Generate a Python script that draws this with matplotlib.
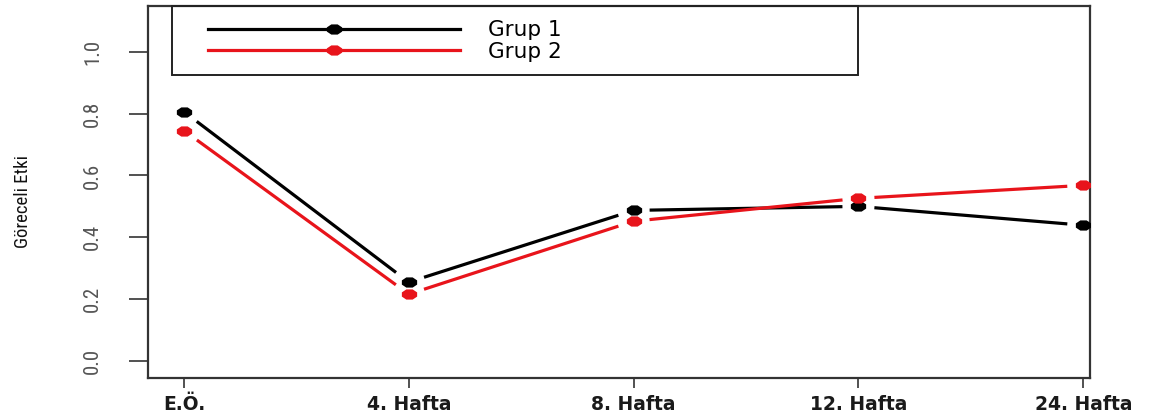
import matplotlib
matplotlib.use("Agg")
import matplotlib.pyplot as plt
from matplotlib import font_manager
from matplotlib.path import Path
from matplotlib.patches import Rectangle
import numpy as np

categories = ["E.Ö.", "4. Hafta", "8. Hafta", "12. Hafta", "24. Hafta"]
grup1 = [0.806, 0.255, 0.487, 0.500, 0.439]
grup2 = [0.745, 0.216, 0.452, 0.526, 0.568]
series_names = ["Grup 1", "Grup 2"]
yticks = [0.0, 0.2, 0.4, 0.6, 0.8, 1.0]
ytick_labels = ["0.0", "0.2", "0.4", "0.6", "0.8", "1.0"]

available = {f.name for f in font_manager.fontManager.ttflist}
narrow = None
for cand in ["Liberation Sans Narrow", "DejaVu Sans Condensed", "Roboto Condensed",
             "Open Sans Condensed", "Noto Sans Condensed"]:
    if cand in available:
        narrow = cand
        break
narrow_family = [narrow, "DejaVu Sans"] if narrow else ["DejaVu Sans"]

W, H = 1163, 416
fig = plt.figure(figsize=(W / 100, H / 100), dpi=100)
ax = fig.add_axes([148 / W, 1 - 378 / H, (1090 - 148) / W, (378 - 6) / H])
ax.set_xlim(-0.16, 4.03)
ax.set_ylim(-0.055, 1.148)
fig.canvas.draw()

# horizontally stretched octagon marker (as in the reference)
ang = np.deg2rad(22.5 + 45 * np.arange(8))
verts = np.column_stack([1.5 * np.cos(ang), np.sin(ang)])
verts = np.vstack([verts, verts[:1]])
oct_marker = Path(verts, closed=True)

x = np.arange(len(categories))
gap = 16.0  # pixels
LW = 2.3
MS = 11


def draw_series(vals, color, label):
    pts = ax.transData.transform(np.column_stack([x, vals]))
    inv = ax.transData.inverted()
    for i in range(len(pts) - 1):
        p0, p1 = pts[i], pts[i + 1]
        d = p1 - p0
        L = np.hypot(*d)
        u = d / L
        a = inv.transform(p0 + u * gap)
        b = inv.transform(p1 - u * gap)
        ax.plot([a[0], b[0]], [a[1], b[1]], color=color, lw=LW,
                solid_capstyle="butt", zorder=2)
    ax.plot(x, vals, linestyle="none", marker=oct_marker, ms=MS, color=color,
            mew=0, zorder=3)
    return ax.plot([], [], color=color, lw=LW, marker=oct_marker, ms=MS, mew=0,
                   label=label)[0]


h1 = draw_series(grup1, "black", series_names[0])
h2 = draw_series(grup2, "#e8141b", series_names[1])

for s in ax.spines.values():
    s.set_linewidth(1.6)
    s.set_color("#333333")

ax.set_yticks(yticks)
ax.set_yticklabels(ytick_labels, rotation=90, va="center", fontsize=15,
                   family=narrow_family)
ax.tick_params(axis="y", length=14, width=1.2, pad=19, colors="#333333",
               labelcolor="#555555")
ax.set_xticks(x)
ax.set_xticklabels(categories, fontsize=13.5, family=["DejaVu Sans"],
                   fontweight="bold")
ax.tick_params(axis="x", length=7, width=1.2, pad=5, colors="#333333",
               labelcolor="#1a1a1a")

ax.set_ylabel("Göreceli Etki", fontsize=13.5, family=narrow_family, color="#111111")
ax.yaxis.set_label_coords(-(148 - 32) / (1090 - 148), (378 - 201) / 372)

# legend box
ax.add_patch(Rectangle((24 / 942, (378 - 75) / 372), 686 / 942, 69 / 372,
                       transform=ax.transAxes, fill=False, ec="#222222", lw=1.4,
                       clip_on=False, zorder=5))
fs_leg = 15.5
px = fs_leg * 100 / 72
leg = ax.legend(handles=[h1, h2], loc="center left",
                bbox_to_anchor=((208 - 148) / 942, (378 - 41) / 372),
                frameon=False, handlelength=252 / px, handletextpad=28 / px,
                borderpad=0.0, labelspacing=0.08, borderaxespad=0.0, numpoints=1,
                prop={"family": "DejaVu Sans", "size": fs_leg})
leg.set_zorder(6)

fig.savefig("out.png", dpi=100)
